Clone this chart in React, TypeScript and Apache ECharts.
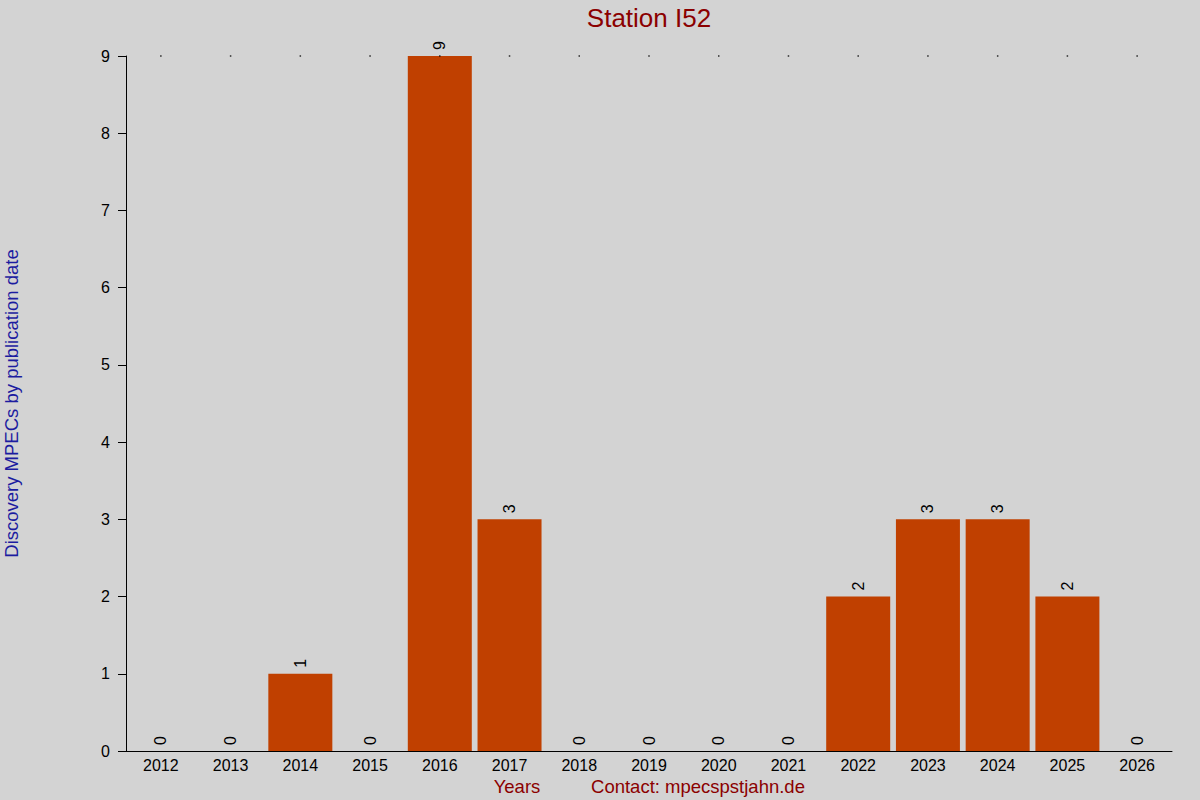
import React, { useEffect, useRef } from 'react'
import * as echarts from 'echarts'

const years = ['2012', '2013', '2014', '2015', '2016', '2017', '2018', '2019', '2020', '2021', '2022', '2023', '2024', '2025', '2026']
const counts = [0, 0, 1, 0, 9, 3, 0, 0, 0, 0, 2, 3, 3, 2, 0]
const yMax = 9

const FONT = '"Liberation Sans", Arial, sans-serif'
const RED = '#8b0000'

const App: React.FC = () => {
  const chartRef = useRef<HTMLDivElement>(null)

  useEffect(() => {
    if (!chartRef.current) return
    const chart = echarts.init(chartRef.current, undefined, { renderer: 'svg' })

    const option: any = {
      animation: false,
      backgroundColor: '#d3d3d3',
      textStyle: { fontFamily: FONT },
      grid: { left: 126, right: 28, top: 56, bottom: 49, outerBoundsMode: 'none', containLabel: false },
      graphic: [
        {
          type: 'text',
          x: 649,
          y: 18,
          style: { text: 'Station I52', fill: RED, fontSize: 26, fontFamily: FONT, align: 'center', verticalAlign: 'middle' },
        },
        {
          type: 'text',
          x: 517,
          y: 786,
          style: { text: 'Years', fill: RED, fontSize: 18.5, fontFamily: FONT, align: 'center', verticalAlign: 'middle' },
        },
        {
          type: 'text',
          x: 698,
          y: 786,
          style: { text: 'Contact: mpecspstjahn.de', fill: RED, fontSize: 18.5, fontFamily: FONT, align: 'center', verticalAlign: 'middle' },
        },
      ],
      xAxis: {
        type: 'category',
        data: years,
        axisLine: { lineStyle: { color: '#000', width: 1 } },
        axisTick: { show: false },
        axisLabel: { color: '#000', fontSize: 16, margin: 6, fontFamily: FONT },
      },
      yAxis: {
        type: 'value',
        min: 0,
        max: yMax,
        interval: 1,
        name: 'Discovery MPECs by publication date',
        nameLocation: 'middle',
        nameGap: 105,
        nameTextStyle: { color: '#1c1ca0', fontSize: 18.5, fontFamily: FONT },
        axisLine: { show: true, lineStyle: { color: '#000', width: 1 } },
        axisTick: { show: true, length: 8, lineStyle: { color: '#000' } },
        axisLabel: { color: '#000', fontSize: 16, margin: 16, fontFamily: FONT },
        splitLine: { show: false },
      },
      series: [
        {
          type: 'bar',
          data: counts,
          barWidth: 64,
          itemStyle: { color: '#c04000' },
          label: {
            show: true,
            position: 'top',
            distance: 6,
            rotate: 90,
            align: 'left',
            verticalAlign: 'middle',
            color: '#000',
            fontSize: 16,
            fontFamily: FONT,
          },
        },
        {
          type: 'scatter',
          data: years.map(() => yMax),
          symbol: 'rect',
          symbolSize: 1.5,
          itemStyle: { color: '#000' },
          silent: true,
        },
      ],
    }

    chart.setOption(option)
    return () => {
      chart.dispose()
    }
  }, [])

  return (
    <div
      ref={chartRef}
      style={{ position: 'fixed', left: 0, top: 0, width: 1200, height: 800 }}
    />
  )
}

export default App
